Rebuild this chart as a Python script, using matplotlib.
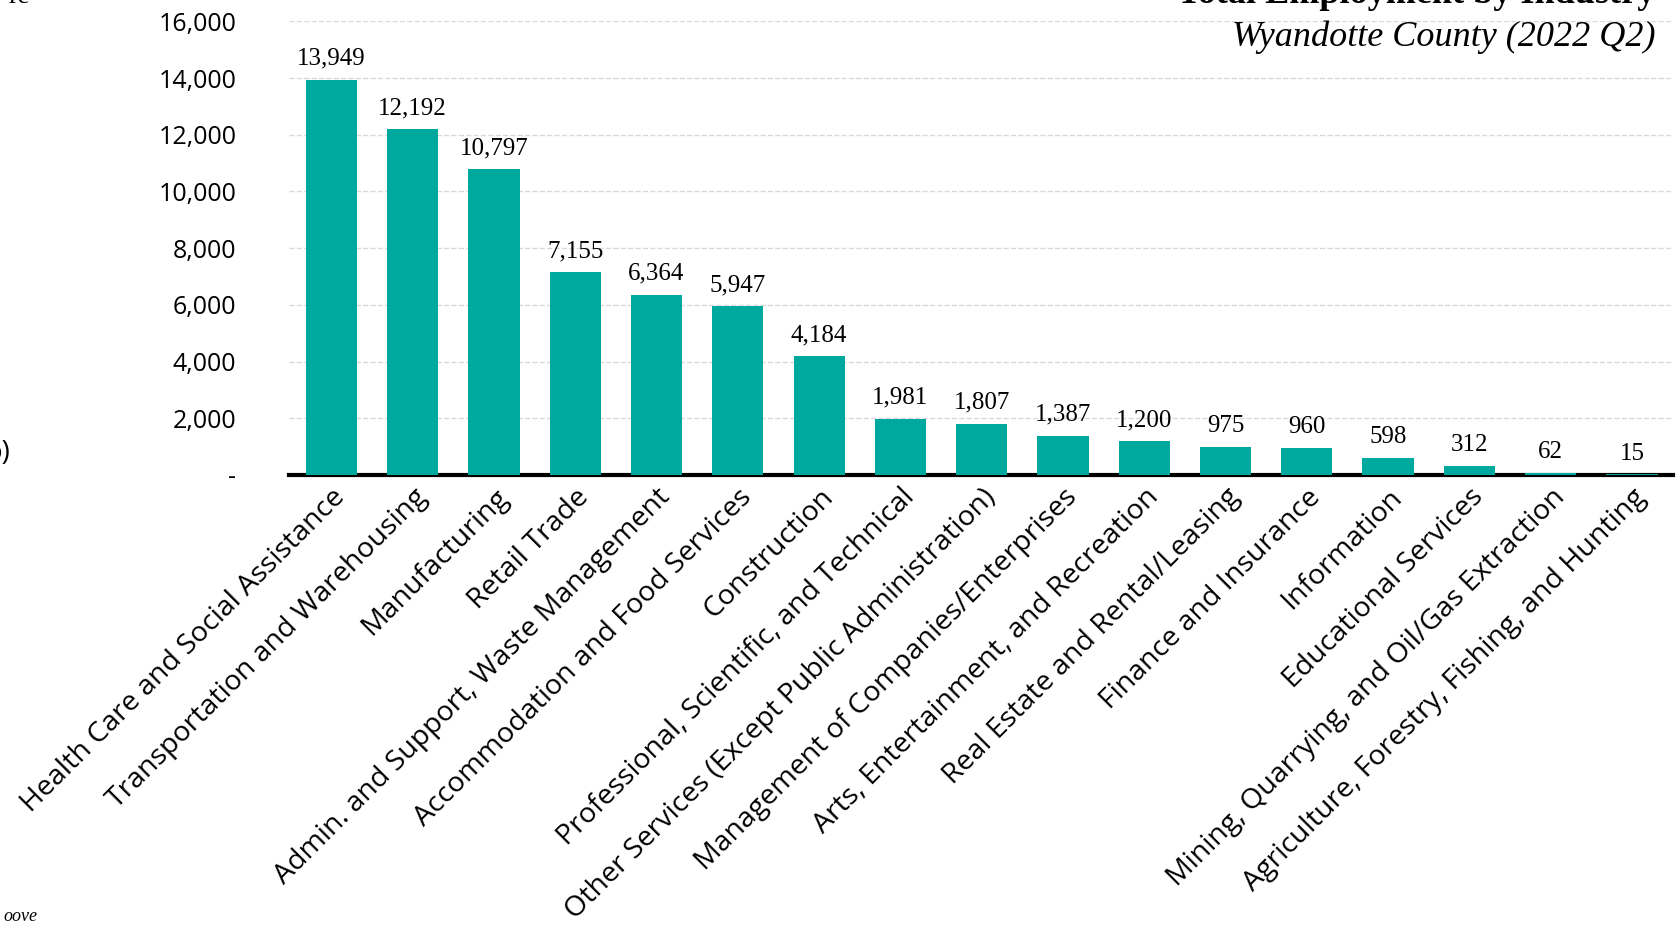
import matplotlib
matplotlib.use("Agg")
import matplotlib.pyplot as plt
from matplotlib.ticker import FuncFormatter

industries = ["Health Care and Social Assistance", "Transportation and Warehousing", "Manufacturing",
              "Retail Trade", "Admin. and Support, Waste Management", "Accommodation and Food Services",
              "Construction", "Professional, Scientific, and Technical",
              "Other Services (Except Public Administration)", "Management of Companies/Enterprises",
              "Arts, Entertainment, and Recreation", "Real Estate and Rental/Leasing",
              "Finance and Insurance", "Information", "Educational Services",
              "Mining, Quarrying, and Oil/Gas Extraction", "Agriculture, Forestry, Fishing, and Hunting"]
employment = [13949, 12192, 10797, 7155, 6364, 5947, 4184, 1981, 1807, 1387, 1200, 975, 960, 598, 312, 62, 15]
yticks = [0, 2000, 4000, 6000, 8000, 10000, 12000, 14000, 16000]

fig = plt.figure(figsize=(16.81, 9.33), dpi=100)
ax = fig.add_axes([0.172, 0.491, 0.823, 0.486])
x = list(range(len(industries)))
ax.bar(x, employment, width=0.63, color="#00A99D", zorder=3)
for xi, v in zip(x, employment):
    ax.text(xi, v + 350, f"{v:,}", ha="center", va="bottom", fontsize=18, family="Liberation Serif", zorder=4)
ax.set_xlim(-0.52, 16.5)
ax.set_ylim(0, 16000)
ax.set_yticks(yticks)
ax.yaxis.set_major_formatter(FuncFormatter(lambda v, p: "-" if v == 0 else f"{int(v):,}"))
ax.grid(axis="y", linestyle="--", color="#d9d9d9", linewidth=1, zorder=0)
for s in ["top", "right", "left"]:
    ax.spines[s].set_visible(False)
ax.spines["bottom"].set_linewidth(3)
ax.spines["bottom"].set_color("black")
ax.tick_params(axis="y", length=0, labelsize=18, pad=38)
ax.tick_params(axis="x", length=0, labelsize=20.5, pad=6)
for lab in ax.get_yticklabels():
    lab.set_family("Open Sans")
ax.set_xticks(x)
ax.set_xticklabels(industries, rotation=45, ha="right", rotation_mode="anchor", family="Open Sans")
fig.text(0.985, 0.988, "Total Employment by Industry", ha="right", va="bottom", fontsize=26,
         family="Liberation Serif", weight="bold")
fig.text(0.985, 0.942, "Wyandotte County (2022 Q2)", ha="right", va="bottom", fontsize=26,
         family="Liberation Serif", style="italic")
fig.text(0.018, 0.99, "re", ha="right", va="bottom", fontsize=20, family="Liberation Serif")
fig.text(0.006, 0.515, "o)", ha="right", va="center", fontsize=20, family="Open Sans")
fig.text(0.022, 0.018, "oove", ha="right", va="center", fontsize=13, family="Liberation Serif", style="italic")
fig.savefig("out.png", dpi=100)
